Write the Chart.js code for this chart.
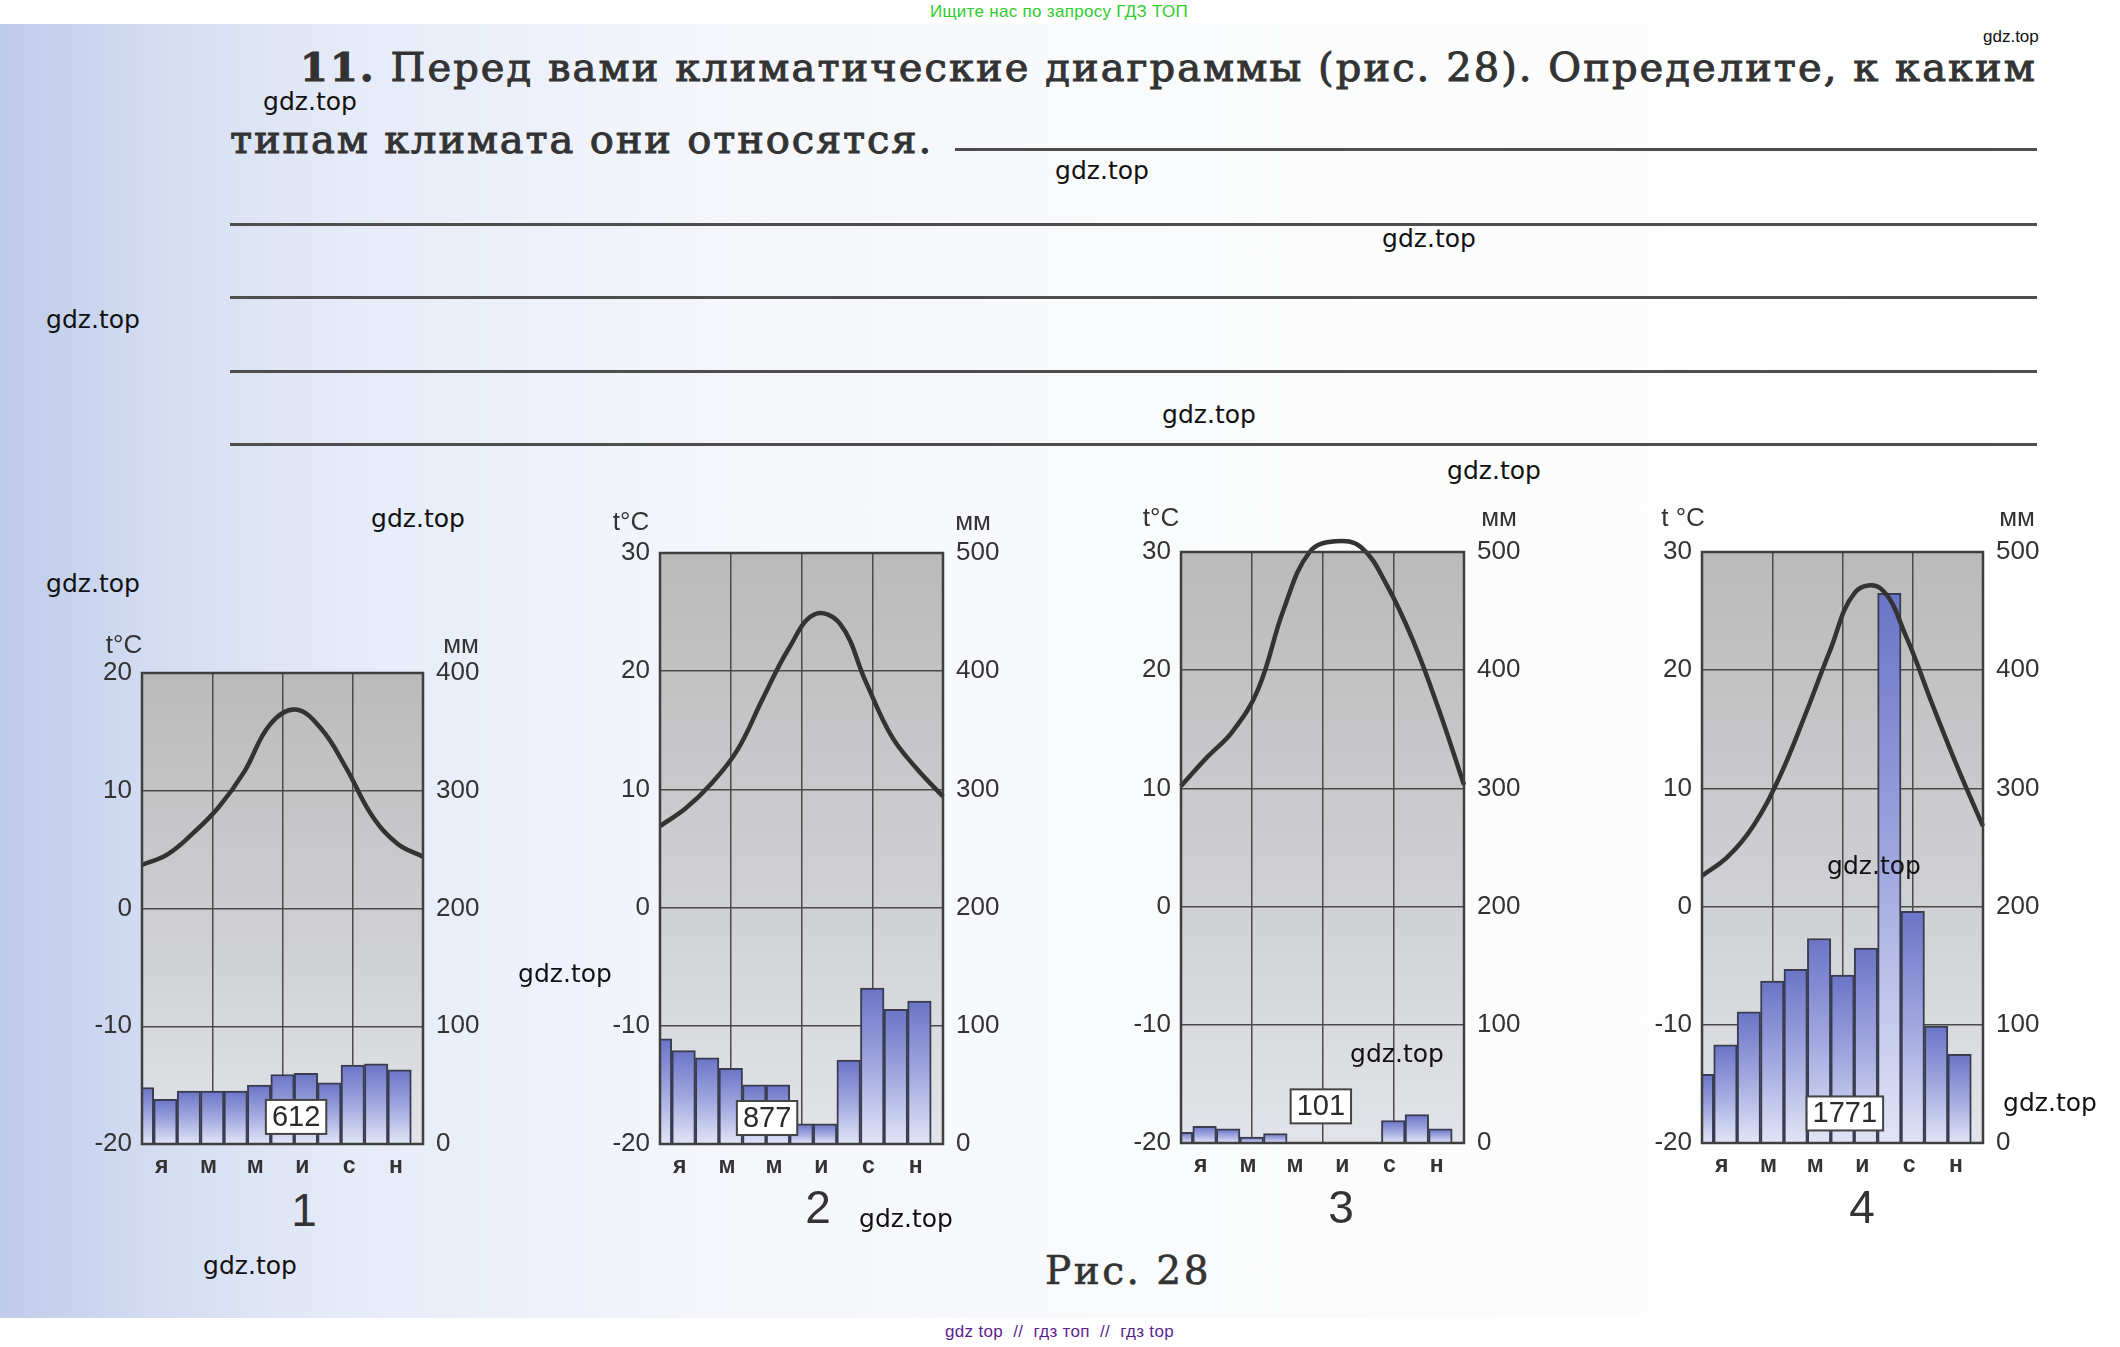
<!DOCTYPE html>
<html lang="ru">
<head>
<meta charset="UTF-8">
<title>Рис. 28</title>
<script src="https://cdn.jsdelivr.net/npm/chart.js@4.4.0/dist/chart.umd.min.js"></script>
<style>
body {
    margin: 0; width: 2120px; height: 1347px; position: relative; overflow: hidden;
    background: linear-gradient(to right, #bfcbea 0px, #d3dcf2 150px, #e6ebf8 350px, #f4f6fb 700px, #fafbfc 1200px, #ffffff 2120px);
    font-family: 'Liberation Sans', sans-serif;
}
.abs { position: absolute; white-space: nowrap; }
.band { position: absolute; left: 0; width: 2120px; background: #fff; }
.task { font-family: 'DejaVu Serif', serif; font-size: 40px; line-height: 40px; color: #333; -webkit-text-stroke: 1px #333; }
.rule { position: absolute; height: 3px; background: #4e4e4e; }
.num { font-size: 46px; line-height: 46px; color: #333; transform: translate(-50%, -50%); }
.wm { font-family: 'DejaVu Sans', sans-serif; font-size: 25px; color: #111; transform: translate(-50%, -50%); }
canvas { position: absolute; }
</style>
</head>
<body>
<div class="band" style="top:0;height:24px"></div>
<div class="band" style="top:1318px;height:29px"></div>

<div class="abs" id="hdr" style="left:930px;top:2px;font-family:'Liberation Sans Narrow','Liberation Sans';font-size:17px;color:#2ecc2e">Ищите нас по запросу ГДЗ ТОП</div>
<div class="abs" id="hdr2" style="left:1983px;top:27px;font-family:'Liberation Sans Narrow','Liberation Sans';font-size:17px;color:#111">gdz.top</div>

<div class="abs task" id="line1" style="left:300px;top:47px"><b>11.</b> Перед вами климатические диаграммы (рис. 28). Определите, к каким</div>
<div class="abs task" id="line2" style="left:230px;top:119px">типам климата они относятся.</div>
<div class="rule" style="left:955px;top:148px;width:1082px"></div>
<div class="rule" style="left:230px;top:223px;width:1807px"></div>
<div class="rule" style="left:230px;top:296px;width:1807px"></div>
<div class="rule" style="left:230px;top:370px;width:1807px"></div>
<div class="rule" style="left:230px;top:443px;width:1807px"></div>

<canvas id="c1"></canvas>
<canvas id="c2"></canvas>
<canvas id="c3"></canvas>
<canvas id="c4"></canvas>

<div class="abs num" style="left:304px;top:1210px">1</div>
<div class="abs num" style="left:818px;top:1207px">2</div>
<div class="abs num" style="left:1341px;top:1207px">3</div>
<div class="abs num" style="left:1862px;top:1207px">4</div>

<div class="abs task" id="fig" style="left:1045px;top:1251px;font-size:39px;-webkit-text-stroke:0.6px #333">Рис. 28</div>
<div class="abs" id="foot" style="left:945px;top:1322px;font-size:17px;color:#5b1f8f">gdz top&nbsp; //&nbsp; гдз топ&nbsp; //&nbsp; гдз top</div>

<script>
// месяцы (подписи только под нечётными)
var monthLabels = ['я', '', 'м', '', 'м', '', 'и', '', 'с', '', 'н', ''];

// диаграмма 1
var temp1 = [3.7, 4.6, 6.4, 8.6, 11.6, 15.6, 16.9, 15.3, 11.9, 7.9, 5.5, 4.4];
var prec1 = [48, 38, 45, 45, 45, 50, 59, 60, 52, 67, 68, 63];
var total1 = 612;
var tempRange1 = [-20, 20];
var precRange1 = [0, 400];

// диаграмма 2
var temp2 = [6.9, 8.4, 10.5, 13.3, 17.7, 21.9, 24.8, 24.0, 19.1, 14.5, 11.7, 9.4];
var prec2 = [89, 79, 73, 64, 50, 50, 17, 17, 71, 132, 114, 121];
var total2 = 877;
var tempRange2 = [-20, 30];
var precRange2 = [0, 500];

// диаграмма 3
var temp3 = [10.2, 12.6, 14.8, 18.4, 25.2, 30.0, 30.9, 30.4, 27.2, 22.6, 16.8, 10.3];
var prec3 = [9, 14, 12, 5, 8, 0, 0, 0, 0, 19, 24, 12];
var total3 = 101;
var tempRange3 = [-20, 30];
var precRange3 = [0, 500];

// диаграмма 4
var temp4 = [2.6, 4.2, 6.8, 10.8, 16.0, 21.6, 26.6, 26.9, 22.8, 17.2, 11.8, 6.8];
var prec4 = [58, 83, 111, 137, 147, 173, 142, 165, 465, 196, 99, 75];
var total4 = 1771;
var tempRange4 = [-20, 30];
var precRange4 = [0, 500];

Chart.defaults.font.family = "'Liberation Sans', sans-serif";
Chart.defaults.color = '#333';

var marks = [[310,101],[1102,170],[1429,238],[93,319],[1209,414],[1494,470],[418,518],[93,583],
             [565,973],[1874,865],[1397,1053],[2050,1102],[906,1218],[250,1265]];
marks.forEach(function(p) {
    var d = document.createElement('div');
    d.className = 'abs wm';
    d.textContent = 'gdz.top';
    d.style.left = p[0] + 'px';
    d.style.top = p[1] + 'px';
    document.body.appendChild(d);
});

function fitWidth(id, w) {
    var el = document.getElementById(id);
    var n = el.textContent.length;
    var cur = el.getBoundingClientRect().width;
    el.style.letterSpacing = ((w - cur) / n) + 'px';
}
fitWidth('line1', 1737);
fitWidth('line2', 703);
fitWidth('fig', 166);
fitWidth('hdr', 258);
fitWidth('foot', 229);

function barFill(c) {
    var chart = c.chart, a = chart.chartArea;
    if (!a || c.raw == null) return '#9aa1dc';
    var yTop = chart.scales.y1.getPixelForValue(c.raw);
    var g = chart.ctx.createLinearGradient(0, yTop, 0, a.bottom);
    g.addColorStop(0, '#6a74c7');
    g.addColorStop(0.5, '#a1a8df');
    g.addColorStop(1, '#e2e5f7');
    return g;
}

var climatePlugin = {
    id: 'climate',
    beforeDraw: function(chart) {
        var a = chart.chartArea, ctx = chart.ctx;
        var g = ctx.createLinearGradient(0, a.top, 0, a.bottom);
        g.addColorStop(0, '#bababa');
        g.addColorStop(0.6, '#d0d1d4');
        g.addColorStop(1, '#e3e4e9');
        ctx.save();
        ctx.fillStyle = g;
        ctx.fillRect(a.left, a.top, a.right - a.left, a.bottom - a.top);
        ctx.restore();
    },
    afterDraw: function(chart, args, o) {
        var a = chart.chartArea, ctx = chart.ctx;
        ctx.save();
        ctx.strokeStyle = '#3f3f3f';
        ctx.lineWidth = 2.5;
        ctx.strokeRect(a.left, a.top, a.right - a.left, a.bottom - a.top);

        ctx.fillStyle = '#333';
        ctx.font = "26px 'Liberation Sans'";
        ctx.textAlign = 'center';
        ctx.textBaseline = 'middle';
        ctx.fillText(o.tLabel, a.left + o.tDx, a.top + o.unitDy);
        ctx.fillText('мм', a.right + o.mmDx, a.top + o.unitDy);

        // рамка с годовой суммой осадков
        var bw = (a.right - a.left) / 12;
        var cx = a.left + (o.boxAt[0] + 0.5) * bw;
        var cy = chart.scales.y1.getPixelForValue(o.boxAt[1]);
        var txt = String(o.total);
        ctx.font = "29px 'Liberation Sans'";
        var w = ctx.measureText(txt).width + 12, h = 34;
        ctx.fillStyle = '#fff';
        ctx.fillRect(cx - w / 2, cy - h / 2, w, h);
        ctx.strokeStyle = '#444';
        ctx.lineWidth = 2;
        ctx.strokeRect(cx - w / 2, cy - h / 2, w, h);
        ctx.fillStyle = '#2a2a2a';
        ctx.fillText(txt, cx, cy + 1);
        ctx.restore();
    }
};

function makeChart(id, plot, temps, precs, total, tRange, pRange, labelOpts) {
    var cv = document.getElementById(id);
    var W = plot.w + 145, H = plot.h + 90;
    cv.width = W; cv.height = H;
    cv.style.width = W + 'px'; cv.style.height = H + 'px';
    cv.style.left = (plot.left - 70) + 'px';
    cv.style.top = (plot.top - 50) + 'px';

    return new Chart(cv, {
        type: 'bar',
        data: {
            labels: monthLabels,
            datasets: [{
                type: 'bar',
                data: precs,
                xAxisID: 'x',
                yAxisID: 'y1',
                backgroundColor: barFill,
                borderColor: '#3a3c50',
                borderWidth: 2,
                barThickness: plot.w / 12,
                order: 2
            }, {
                type: 'line',
                data: temps,
                xAxisID: 'x2',
                yAxisID: 'y',
                borderColor: '#333',
                borderWidth: 4.5,
                pointRadius: 0,
                tension: 0.4,
                fill: false,
                clip: false,
                order: 1
            }]
        },
        options: {
            responsive: false,
            animation: false,
            devicePixelRatio: 1,
            layout: { padding: { top: 50, left: 0, right: 0, bottom: 0 } },
            plugins: {
                legend: { display: false },
                tooltip: { enabled: false },
                climate: {
                    total: total,
                    boxAt: labelOpts.boxAt,
                    tLabel: labelOpts.tLabel,
                    tDx: labelOpts.tDx,
                    mmDx: labelOpts.mmDx,
                    unitDy: labelOpts.unitDy
                }
            },
            scales: {
                x: {
                    type: 'category',
                    offset: true,
                    grid: {
                        offset: true,
                        drawTicks: false,
                        lineWidth: 1.5,
                        color: function(c) { return c.index % 3 === 0 ? '#4a4a4a' : 'rgba(0,0,0,0)'; }
                    },
                    border: { display: false },
                    ticks: {
                        autoSkip: false, maxRotation: 0, padding: 9, labelOffset: 8,
                        color: '#333', font: { size: 23, weight: 'bold' }
                    },
                    afterFit: function(s) { s.height = 40; }
                },
                x2: { type: 'category', offset: false, display: false },
                y: {
                    position: 'left',
                    min: tRange[0], max: tRange[1],
                    ticks: { stepSize: 10, padding: 10, color: '#333', font: { size: 26 } },
                    grid: { color: '#4a4a4a', lineWidth: 1.5, drawTicks: false },
                    border: { display: false },
                    afterFit: function(s) { s.width = 70; }
                },
                y1: {
                    position: 'right',
                    min: pRange[0], max: pRange[1],
                    ticks: { stepSize: 100, padding: 13, color: '#333', font: { size: 26 } },
                    grid: { display: false, drawTicks: false },
                    border: { display: false },
                    afterFit: function(s) { s.width = 75; }
                }
            }
        },
        plugins: [climatePlugin]
    });
}

makeChart('c1', { left: 142, top: 673, w: 281, h: 471 }, temp1, prec1, total1, tempRange1, precRange1,
    { boxAt: [6.08, 23], tLabel: 't°C', tDx: -18, mmDx: 38, unitDy: -27 });
makeChart('c2', { left: 660, top: 553, w: 283, h: 591 }, temp2, prec2, total2, tempRange2, precRange2,
    { boxAt: [4.04, 22], tLabel: 't°C', tDx: -29, mmDx: 30, unitDy: -30 });
makeChart('c3', { left: 1181, top: 552, w: 283, h: 591 }, temp3, prec3, total3, tempRange3, precRange3,
    { boxAt: [5.43, 31], tLabel: 't°C', tDx: -20, mmDx: 35, unitDy: -33 });
makeChart('c4', { left: 1702, top: 552, w: 281, h: 591 }, temp4, prec4, total4, tempRange4, precRange4,
    { boxAt: [5.6, 25], tLabel: 't °C', tDx: -19, mmDx: 34, unitDy: -33 });
</script>
</body>
</html>
